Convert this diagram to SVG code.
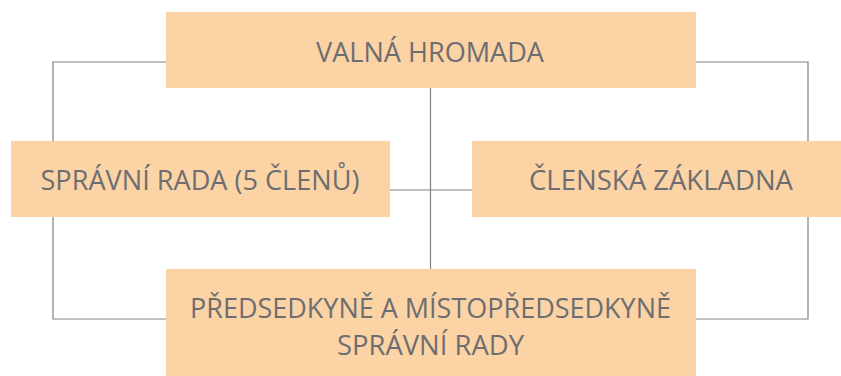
<svg xmlns="http://www.w3.org/2000/svg" width="841" height="376" viewBox="0 0 841 376">
<style>
.box{fill:#fbd3a5}
.lbl{font-family:"Open Sans","Liberation Sans",sans-serif;font-size:27px;fill:#6d6e71;text-anchor:middle}
.con{fill:none;stroke:#808285;stroke-width:1.2}
</style>
<rect width="841" height="376" fill="#ffffff"/>
<g id="connectors">
<polyline class="con" points="166,62 53,62 53,319 166,319"/>
<polyline class="con" points="696,62 808,62 808,319 696,319"/>
<line class="con" x1="430.5" y1="88" x2="430.5" y2="269"/>
<line class="con" x1="390" y1="190" x2="472" y2="190"/>
</g>
<g id="valna-hromada">
<rect class="box" x="166" y="12" width="530" height="76"/>
<text class="lbl" x="430" y="62" textLength="228" lengthAdjust="spacingAndGlyphs">VALNÁ HROMADA</text>
</g>
<g id="spravni-rada">
<rect class="box" x="11" y="141" width="379" height="76"/>
<text class="lbl" x="200" y="190" textLength="319" lengthAdjust="spacingAndGlyphs">SPRÁVNÍ RADA (5 ČLENŮ)</text>
</g>
<g id="clenska-zakladna">
<rect class="box" x="472" y="141" width="369" height="76"/>
<text class="lbl" x="661" y="190" textLength="264" lengthAdjust="spacingAndGlyphs">ČLENSKÁ ZÁKLADNA</text>
</g>
<g id="predsedkyne">
<rect class="box" x="166" y="269" width="530" height="107"/>
<text class="lbl" x="430.5" y="318" textLength="481" lengthAdjust="spacingAndGlyphs">PŘEDSEDKYNĚ A MÍSTOPŘEDSEDKYNĚ</text>
<text class="lbl" x="430.5" y="355" textLength="187" lengthAdjust="spacingAndGlyphs">SPRÁVNÍ RADY</text>
</g>
</svg>
